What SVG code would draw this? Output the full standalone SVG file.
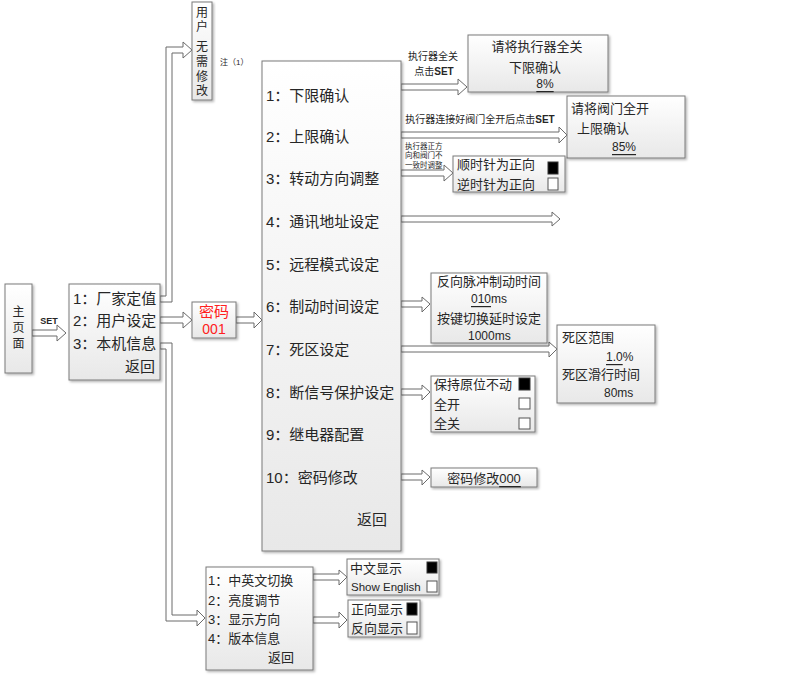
<svg xmlns="http://www.w3.org/2000/svg" width="805" height="675" viewBox="0 0 805 675">
<style>
text{font-family:"Liberation Sans","Noto Sans CJK SC",sans-serif;fill:#262626;dominant-baseline:central}
.box{fill:url(#g);stroke:#7a7a7a;stroke-width:1;filter:url(#sh)}
.arr{fill:#fff;stroke:#6a6a6a;stroke-width:1;stroke-linejoin:miter}
.f15{font-size:15px}
.f13{font-size:13px}
.f12{font-size:12px}
.sm{font-size:10px}
.tiny{font-size:7.5px}
.red{fill:#ff2020}
.cbk{fill:#000;stroke:#333;stroke-width:1}
.cbw{fill:#fff;stroke:#555;stroke-width:1}
.u{text-decoration:underline}
</style>
<defs>
<linearGradient id="g" x1="0" y1="0" x2="0" y2="1">
<stop offset="0" stop-color="#ffffff"/>
<stop offset="1" stop-color="#e8e8e8"/>
</linearGradient>
<filter id="sh" x="-10%" y="-10%" width="130%" height="130%">
<feDropShadow dx="1.5" dy="1.5" stdDeviation="1" flood-color="#000" flood-opacity="0.3"/>
</filter>
</defs>
<rect width="805" height="675" fill="#fff"/>

<g id="connectors">
<polygon class="arr" points="32,330 57,330 57,325 66,333 57,341 57,336 32,336"/>
<polygon class="arr" points="160,317 183,317 183,312 192,320 183,328 183,323 160,323"/>
<polygon class="arr" points="236,317 254,317 254,312 262,320 254,328 254,323 236,323"/>
<polygon class="arr" points="160,296 166,296 166,47 183,47 183,42 192,50 183,58 183,53 172,53 172,302 160,302"/>
<polygon class="arr" points="160,343 172,343 172,615 197,615 197,610 205,618 197,626 197,621 166,621 166,349 160,349"/>
<polygon class="arr" points="401,84 458,84 458,79 467,87 458,95 458,90 401,90"/>
<polygon class="arr" points="401,132 559,132 559,127 567,135 559,143 559,138 401,138"/>
<polygon class="arr" points="401,170 444,170 444,165 453,173 444,181 444,176 401,176"/>
<polygon class="arr" points="401,216 552,216 552,212 560,219 552,226 552,222 401,222"/>
<polygon class="arr" points="401,301 422,301 422,297 430,304 422,312 422,307 401,307"/>
<polygon class="arr" points="401,346 549,346 549,342 557,349 549,357 549,352 401,352"/>
<polygon class="arr" points="401,389 422,389 422,385 430,392 422,400 422,395 401,395"/>
<polygon class="arr" points="401,474 422,474 422,470 430,477 422,485 422,480 401,480"/>
<polygon class="arr" points="313,574 339,574 339,570 347,577 339,585 339,580 313,580"/>
<polygon class="arr" points="313,617 339,617 339,612 347,620 339,628 339,623 313,623"/>
<text x="49" y="321" font-size="9" font-weight="bold" text-anchor="middle">SET</text>
<text x="433" y="56" class="sm" text-anchor="middle">执行器全关</text>
<text x="434" y="71" class="sm" text-anchor="middle">点击<tspan font-weight="bold">SET</tspan></text>
<text x="480" y="119" class="sm" text-anchor="middle">执行器连接好阀门全开后点击<tspan font-weight="bold">SET</tspan></text>
<text x="405" y="146" class="tiny">执行器正方</text>
<text x="405" y="155.5" class="tiny">向和阀门不</text>
<text x="405" y="165" class="tiny">一致时调整</text>
<text x="220" y="62" font-size="8">注（1）</text>
</g>

<g id="main-page">
<rect class="box" x="5" y="284" width="27" height="89"/>
<text x="18.5" y="312" class="f12" text-anchor="middle">主</text>
<text x="18.5" y="328" class="f12" text-anchor="middle">页</text>
<text x="18.5" y="344" class="f12" text-anchor="middle">面</text>
</g>

<g id="menu-top">
<rect class="box" x="69" y="284" width="91" height="96"/>
<text x="73" y="298" class="f15">1：厂家定值</text>
<text x="73" y="320" class="f15">2：用户设定</text>
<text x="73" y="343" class="f15">3：本机信息</text>
<text x="125" y="366" class="f15">返回</text>
</g>

<g id="no-change">
<rect class="box" x="192" y="2" width="20" height="98"/>
<text x="202" y="13" class="f12" text-anchor="middle">用</text>
<text x="202" y="27" class="f12" text-anchor="middle">户</text>
<text x="202" y="47" class="f12" text-anchor="middle">无</text>
<text x="202" y="62" class="f12" text-anchor="middle">需</text>
<text x="202" y="77" class="f12" text-anchor="middle">修</text>
<text x="202" y="91" class="f12" text-anchor="middle">改</text>
</g>

<g id="password">
<rect class="box" x="192" y="302" width="44" height="36"/>
<text x="214" y="311" class="f15 red" text-anchor="middle">密码</text>
<text x="214" y="329" font-size="14" class="red" text-anchor="middle">001</text>
</g>

<g id="user-menu">
<rect class="box" x="262" y="61" width="139" height="490"/>
<text x="266" y="95" class="f15">1：下限确认</text>
<text x="266" y="136" class="f15">2：上限确认</text>
<text x="266" y="178" class="f15">3：转动方向调整</text>
<text x="266" y="221" class="f15">4：通讯地址设定</text>
<text x="266" y="264" class="f15">5：远程模式设定</text>
<text x="266" y="306" class="f15">6：制动时间设定</text>
<text x="266" y="349" class="f15">7：死区设定</text>
<text x="266" y="392" class="f15">8：断信号保护设定</text>
<text x="266" y="434" class="f15">9：继电器配置</text>
<text x="266" y="477" class="f15">10：密码修改</text>
<text x="357" y="519" class="f15">返回</text>
</g>

<g id="lower-limit">
<rect class="box" x="468" y="35" width="140" height="57"/>
<text x="537" y="46" class="f13" text-anchor="middle">请将执行器全关</text>
<text x="535" y="67" class="f13" text-anchor="middle">下限确认</text>
<text x="545" y="84" class="f12 u" text-anchor="middle">8%</text>
</g>

<g id="upper-limit">
<rect class="box" x="567" y="96" width="118" height="62"/>
<text x="571" y="108" class="f13">请将阀门全开</text>
<text x="577" y="128" class="f13">上限确认</text>
<text x="612" y="147" class="f12 u">85%</text>
</g>

<g id="direction">
<rect class="box" x="453" y="156" width="112" height="36"/>
<text x="457" y="164" class="f13">顺时针为正向</text>
<text x="457" y="184" class="f13">逆时针为正向</text>
<rect class="cbk" x="548" y="162" width="10" height="12"/>
<rect class="cbw" x="548" y="178" width="10" height="12"/>
</g>

<g id="brake-time">
<rect class="box" x="431" y="273" width="116" height="70"/>
<text x="437" y="281" class="f13">反向脉冲制动时间</text>
<text x="471" y="299" class="f12"><tspan class="u">010</tspan>ms</text>
<text x="437" y="318" class="f13">按键切换延时设定</text>
<text x="468" y="336" class="f12">1000ms</text>
</g>

<g id="dead-zone">
<rect class="box" x="557" y="325" width="98" height="78"/>
<text x="562" y="337" class="f13">死区范围</text>
<text x="606" y="357" class="f12"><tspan class="u">1.0</tspan>%</text>
<text x="562" y="374" class="f13">死区滑行时间</text>
<text x="604" y="393" class="f12">80ms</text>
</g>

<g id="signal-loss">
<rect class="box" x="431" y="376" width="104" height="56"/>
<text x="434" y="384" class="f13">保持原位不动</text>
<text x="434" y="404" class="f13">全开</text>
<text x="434" y="423" class="f13">全关</text>
<rect class="cbk" x="519" y="378" width="11" height="12"/>
<rect class="cbw" x="519" y="398" width="11" height="11"/>
<rect class="cbw" x="519" y="418" width="11" height="11"/>
</g>

<g id="password-change">
<rect class="box" x="431" y="468" width="106" height="19"/>
<text x="484" y="478" class="f13" text-anchor="middle">密码修改<tspan class="u">000</tspan></text>
</g>

<g id="local-menu">
<rect class="box" x="206" y="567" width="107" height="103"/>
<text x="208" y="580" class="f13">1：中英文切换</text>
<text x="208" y="600" class="f13">2：亮度调节</text>
<text x="208" y="619" class="f13">3：显示方向</text>
<text x="208" y="638" class="f13">4：版本信息</text>
<text x="268" y="657" class="f13">返回</text>
</g>

<g id="language">
<rect class="box" x="347" y="559" width="92" height="36"/>
<text x="350" y="568" class="f13">中文显示</text>
<text x="351" y="587" font-size="11.5">Show English</text>
<rect class="cbk" x="427" y="562" width="10" height="11"/>
<rect class="cbw" x="427" y="581" width="10" height="11"/>
</g>

<g id="display-dir">
<rect class="box" x="348" y="600" width="72" height="37"/>
<text x="351" y="609" class="f13">正向显示</text>
<text x="351" y="628" class="f13">反向显示</text>
<rect class="cbk" x="407" y="603" width="10" height="12"/>
<rect class="cbw" x="407" y="622" width="10" height="12"/>
</g>
</svg>
